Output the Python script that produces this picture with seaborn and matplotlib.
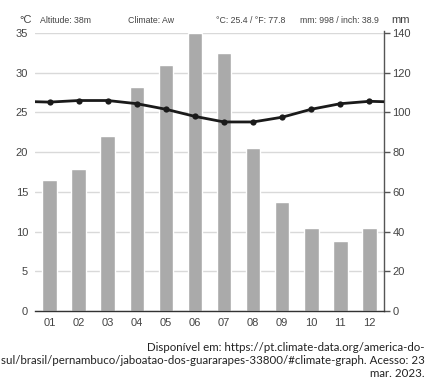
import numpy as np
import matplotlib
matplotlib.use('Agg')
import matplotlib.pyplot as plt
import seaborn as sns

# Climate data (Jaboatao dos Guararapes)
months = ['01', '02', '03', '04', '05', '06', '07', '08', '09', '10', '11', '12']
temp_c = [26.3, 26.5, 26.5, 26.1, 25.4, 24.5, 23.8, 23.8, 24.4, 25.4, 26.1, 26.4]
precip_mm = [66, 71.5, 88, 113, 124, 140, 130, 82, 55, 42, 35, 42]
temp_ticks = [0, 5, 10, 15, 20, 25, 30, 35]
mm_ticks = [0, 20, 40, 60, 80, 100, 120, 140]

caption = ('Disponível em: https://pt.climate-data.org/america-do-\n'
           'sul/brasil/pernambuco/jaboatao-dos-guararapes-33800/#climate-graph. Acesso: 23\n'
           'mar. 2023.')

sns.set_style('white')
plt.rcParams['font.family'] = ['Liberation Sans', 'DejaVu Sans']

fig = plt.figure(figsize=(4.3, 3.82), dpi=100)
ax = fig.add_axes([0.0814, 0.1859, 0.8116, 0.7277])
ax2 = ax.twinx()

# bars (mm) on the twin axis, grid behind bars
sns.barplot(x=months, y=precip_mm, ax=ax2, color='#aaaaaa', saturation=1, width=0.5)
ax2.set_axisbelow(True)
ax2.yaxis.grid(True, color='#d9d9d9', linewidth=1)
ax2.set_ylim(0, 140)
ax2.set_yticks(mm_ticks)
ax2.tick_params(axis='y', direction='out', length=4, width=1, color='#555555',
                labelsize=8, labelcolor='#444444', pad=2)
ax2.set_ylabel('')

# temperature line (wrapped Dec/Jan so the line runs to the edges)
x_line = np.arange(-1, 13)
y_line = [temp_c[-1]] + temp_c + [temp_c[0]]
ax.set_zorder(ax2.get_zorder() + 1)
ax.patch.set_visible(False)
sns.lineplot(x=x_line, y=y_line, ax=ax, color='#1a1a1a', linewidth=2,
             marker='o', markersize=4.5, markeredgewidth=0)
ax.set_ylim(0, 35)
ax.set_xlim(-0.5, 11.5)
ax.set_yticks(temp_ticks)
ax.tick_params(axis='y', length=0, labelsize=8, labelcolor='#444444', pad=5)

ax.set_xticks(range(12))
ax.set_xticklabels(months)
ax.set_xticks(np.arange(-0.5, 12, 1), minor=True)
ax.tick_params(axis='x', which='major', length=0, labelsize=8, labelcolor='#444444', pad=5)
ax.tick_params(axis='x', which='minor', length=4, width=1, color='#333333', direction='out')
ax2.set_xlim(-0.5, 11.5)
ax2.tick_params(axis='x', length=0, labelbottom=False)

for a in (ax, ax2):
    for s in ('top', 'left'):
        a.spines[s].set_visible(False)
ax.spines['right'].set_visible(False)
ax2.spines['bottom'].set_visible(False)
ax.spines['bottom'].set_color('#333333')
ax.spines['bottom'].set_linewidth(1)
ax2.spines['right'].set_color('#555555')
ax2.spines['right'].set_linewidth(1)
ax2.spines['right'].set_bounds(0, 141)

# header texts
fig.text(0.044, 0.947, '°C', fontsize=8, color='#444444', va='center')
fig.text(0.092, 0.947, 'Altitude: 38m', fontsize=6.3, color='#444444', va='center')
fig.text(0.297, 0.947, 'Climate: Aw', fontsize=6.3, color='#444444', va='center')
fig.text(0.502, 0.947, '°C: 25.4 / °F: 77.8', fontsize=6.3, color='#444444', va='center')
fig.text(0.697, 0.947, 'mm: 998 / inch: 38.9', fontsize=6.3, color='#444444', va='center')
fig.text(0.910, 0.947, 'mm', fontsize=8, color='#444444', va='center')

fig.text(0.988, 0.057, caption, ha='right', va='center', fontsize=8.3,
         family=['Lato', 'DejaVu Sans'], color='#222222', linespacing=1.2)

fig.savefig('out.png', dpi=100)
